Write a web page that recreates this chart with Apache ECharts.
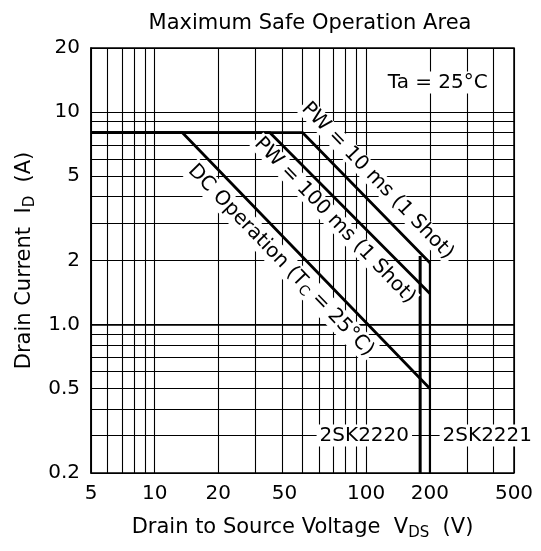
<!DOCTYPE html>
<html>
<head>
<meta charset="utf-8">
<script src="https://cdn.jsdelivr.net/npm/echarts@6/dist/echarts.min.js"></script>
<style>
html, body { margin: 0; padding: 0; background: #fff; }
#chart { width: 541px; height: 551px; }
</style>
</head>
<body>
<div id="chart"></div>
<script>
// grid lines and tick labels of the log-log plot (volts / amps)
const gridVolts = [5, 6, 7, 8, 9, 10, 20, 30, 40, 50, 60, 70, 80, 90, 100, 200, 300, 400, 500];
const gridAmps = [0.2, 0.3, 0.4, 0.5, 0.6, 0.7, 0.8, 0.9, 1, 2, 3, 4, 5, 6, 7, 8, 9, 10, 20];
const voltTicks = [5, 10, 20, 50, 100, 200, 500];
const ampTicks = [0.2, 0.5, 1, 2, 5, 10, 20];

// limit curves
const dcVolts = [5, 13.5, 200];
const dcAmps = [8, 8, 0.5];
const pw100Volts = [5, 35, 200];
const pw100Amps = [8, 8, 1.4];
const pw10Volts = [5, 50, 200];
const pw10Amps = [8, 8, 1.95];
const sk2220Volts = [180, 180];
const sk2220Amps = [0.2, 2.1];
const sk2221Volts = [200, 200];
const sk2221Amps = [0.2, 1.95];

// annotations (anchor in volts / amps)
const noteTexts = ['PW = 10 ms (1 Shot)', 'PW = 100 ms (1 Shot)', 'DC Operation (T{s|C} = 25°C)'];
const noteVolts = [113, 71, 39.5];
const noteAmps = [4.74, 3.08, 2.0];
const partTexts = ['Ta = 25°C', '2SK2220', '2SK2221'];
const partVolts = [218, 98, 374];
const partAmps = [13.75, 0.3, 0.3];

const FONT = 'DejaVu Sans';
const lg = Math.log10;
const toPts = (xs, ys) => xs.map((x, i) => [lg(x), lg(ys[i])]);

function voltLabel(v) {
    const n = Math.round(Math.pow(10, v));
    // the "50" label sits a little left of its grid line in the original
    return n === 50 ? '{shift|50}' : String(n);
}
function ampLabel(v) {
    const n = Math.pow(10, v);
    if (n < 0.99) return n.toFixed(1);
    if (n < 1.01) return '1.0';
    return String(Math.round(n));
}

const chart = echarts.init(document.getElementById('chart'), null, { renderer: 'canvas' });

const gridLine = { show: true, lineStyle: { color: '#000', width: 1.1 } };
const nameRich = {
    n: { fontFamily: FONT, fontSize: 21, color: '#000', lineHeight: 28 },
    s: { fontFamily: FONT, fontSize: 15, color: '#000', lineHeight: 28, padding: [10, 0, 0, 0] }
};

function limitLine(xs, ys, w) {
    return {
        type: 'line',
        data: toPts(xs, ys),
        symbol: 'none',
        lineStyle: { color: '#000', width: w },
        silent: true
    };
}

// text-only labels placed at data coordinates
function noteSeries(texts, volts, amps, rotate) {
    return {
        type: 'scatter',
        symbolSize: 0,
        silent: true,
        itemStyle: { color: '#000', opacity: 1 },
        data: texts.map((t, i) => ({
            value: [lg(volts[i]), lg(amps[i])],
            label: { formatter: t }
        })),
        label: {
            show: true,
            position: 'inside',
            rotate: rotate,
            opacity: 1,
            fontFamily: FONT, fontSize: 20, color: '#000',
            textBorderWidth: 0,
            backgroundColor: '#fff',
            padding: rotate ? [0, 2] : [1, 3],
            rich: {
                s: { fontFamily: FONT, fontSize: 14, color: '#000', textBorderWidth: 0, padding: [10, 0, 0, 0] }
            }
        },
        z: 5
    };
}

chart.setOption({
    animation: false,
    backgroundColor: '#fff',
    title: {
        text: 'Maximum Safe Operation Area',
        left: 305,
        top: 8,
        textAlign: 'center',
        textStyle: { fontFamily: FONT, fontSize: 21, fontWeight: 'normal', color: '#000' }
    },
    grid: {
        left: 91, right: 27, top: 48, bottom: 78,
        show: true, borderColor: '#000', borderWidth: 1.5
    },
    xAxis: {
        type: 'value',
        min: lg(5),
        max: lg(500),
        name: '{n|Drain to Source Voltage  V}{s|DS}{n|  (V)}',
        nameLocation: 'middle',
        nameGap: 41,
        nameTextStyle: { rich: nameRich },
        axisLine: { show: true, lineStyle: { color: '#000', width: 1.5 } },
        axisTick: { show: false, customValues: gridVolts.map(lg) },
        splitLine: gridLine,
        axisLabel: {
            customValues: voltTicks.map(lg),
            formatter: voltLabel,
            margin: 11,
            fontFamily: FONT, fontSize: 20, color: '#000',
            rich: {
                shift: { fontFamily: FONT, fontSize: 20, color: '#000', padding: [0, 36, 0, 0] }
            }
        }
    },
    yAxis: {
        type: 'value',
        min: lg(0.2),
        max: lg(20),
        name: '{n|Drain Current  I}{s|D}{n|  (A)}',
        nameLocation: 'middle',
        nameGap: 52,
        nameRotate: 90,
        nameTextStyle: { rich: nameRich },
        axisLine: { show: true, lineStyle: { color: '#000', width: 1.5 } },
        axisTick: { show: false, customValues: gridAmps.map(lg) },
        splitLine: gridLine,
        axisLabel: {
            customValues: ampTicks.map(lg),
            formatter: ampLabel,
            margin: 11,
            fontFamily: FONT, fontSize: 20, color: '#000'
        }
    },
    series: [
        limitLine(dcVolts, dcAmps, 2.8),
        limitLine(pw100Volts, pw100Amps, 2.8),
        limitLine(pw10Volts, pw10Amps, 2.8),
        limitLine(sk2220Volts, sk2220Amps, 3),
        limitLine(sk2221Volts, sk2221Amps, 2),
        noteSeries(noteTexts, noteVolts, noteAmps, -46),
        noteSeries(partTexts, partVolts, partAmps, 0)
    ]
});
</script>
</body>
</html>
